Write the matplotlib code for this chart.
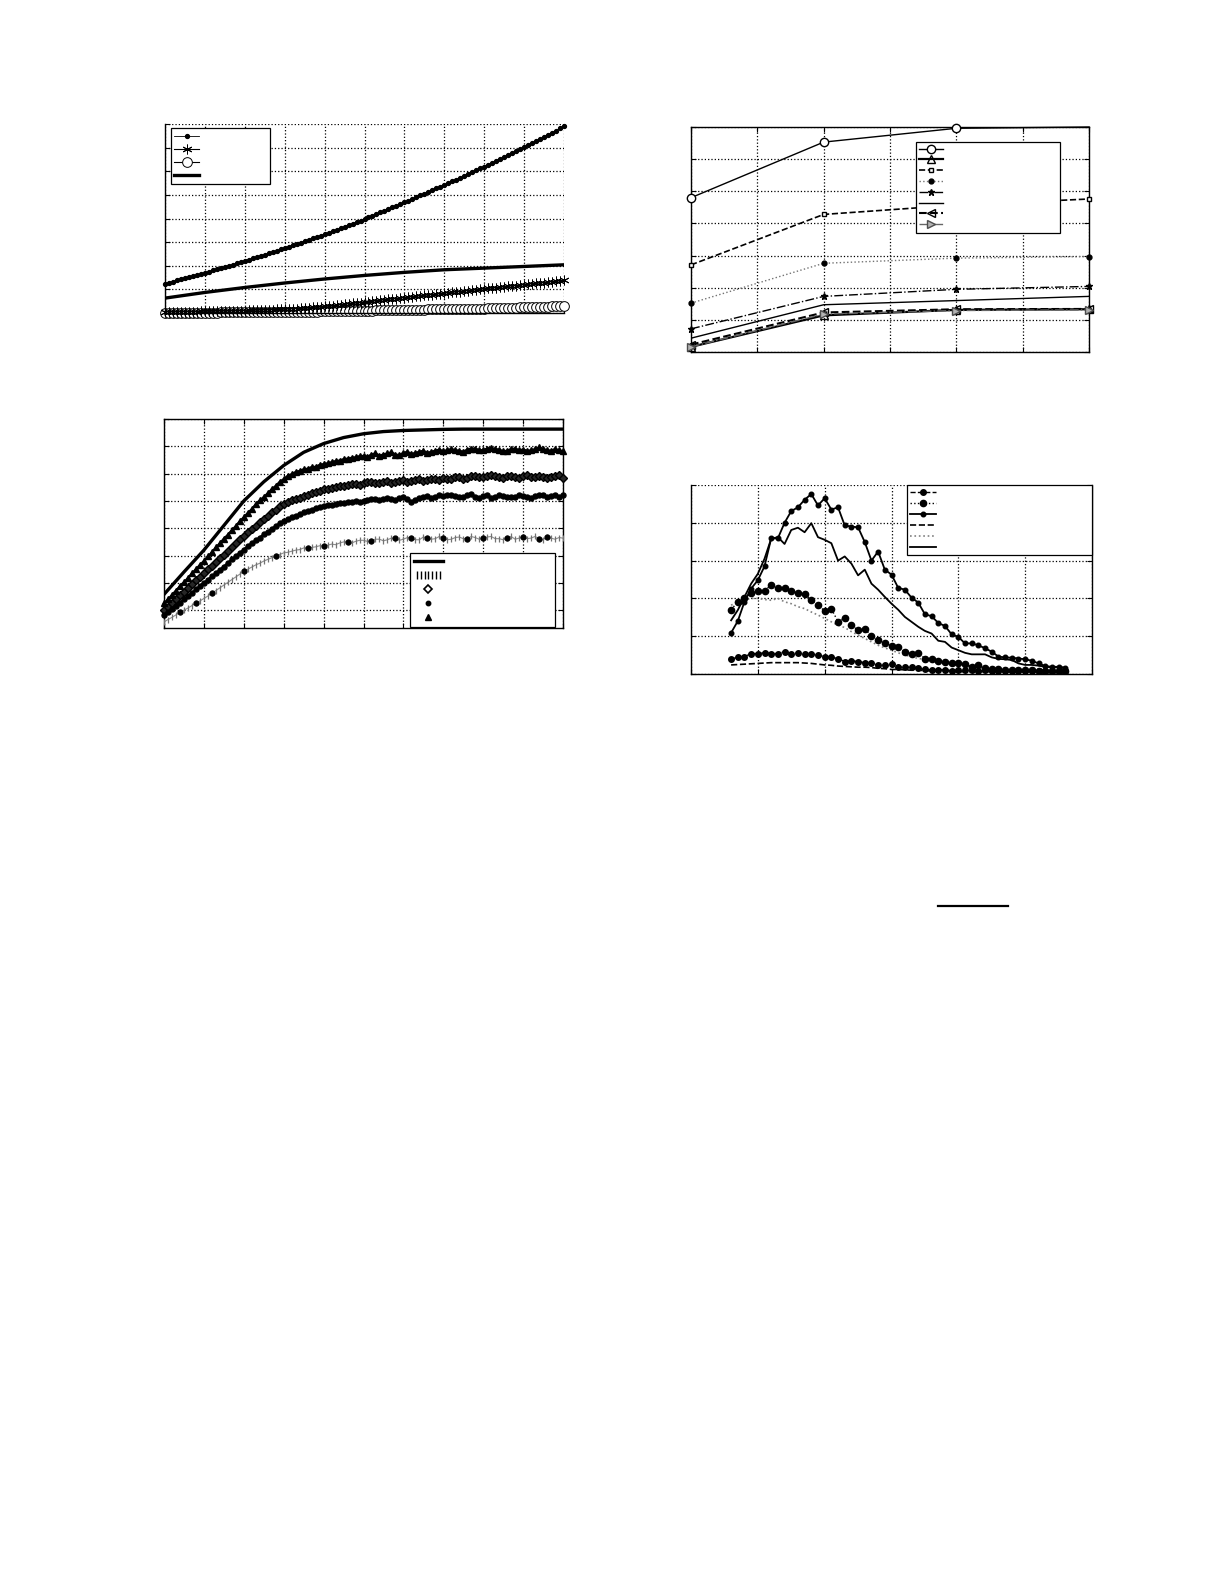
import numpy as np
import matplotlib
matplotlib.use("Agg")
import matplotlib.pyplot as plt
from matplotlib.lines import Line2D
from matplotlib.legend_handler import HandlerLine2D

# ---------------- Panel A data ----------------
a_x = list(range(0, 101))
a_dots = [1.24,1.29,1.33,1.38,1.42,1.47,1.52,1.56,1.61,1.65,
          1.70,1.75,1.80,1.85,1.90,1.95,2.00,2.05,2.10,2.15,
          2.20,2.25,2.31,2.36,2.42,2.47,2.52,2.58,2.63,2.69,
          2.74,2.80,2.86,2.92,2.98,3.04,3.10,3.16,3.21,3.27,
          3.33,3.39,3.46,3.52,3.59,3.65,3.72,3.78,3.85,3.91,
          3.98,4.05,4.12,4.19,4.26,4.33,4.40,4.47,4.54,4.61,
          4.68,4.75,4.83,4.90,4.98,5.05,5.12,5.20,5.27,5.35,
          5.42,5.50,5.58,5.65,5.73,5.81,5.89,5.97,6.04,6.12,
          6.20,6.28,6.36,6.45,6.53,6.61,6.69,6.77,6.86,6.94,
          7.02,7.11,7.20,7.28,7.37,7.46,7.55,7.64,7.72,7.81,7.90]
a_stars = [0.05,0.05,0.05,0.05,0.06,0.06,0.06,0.06,0.06,0.07,
           0.07,0.07,0.07,0.08,0.08,0.08,0.08,0.09,0.09,0.09,
           0.10,0.11,0.11,0.12,0.12,0.13,0.13,0.14,0.15,0.15,
           0.16,0.17,0.18,0.19,0.20,0.22,0.23,0.24,0.25,0.27,
           0.28,0.30,0.31,0.33,0.35,0.37,0.39,0.41,0.42,0.44,
           0.46,0.48,0.50,0.52,0.54,0.56,0.58,0.60,0.61,0.63,
           0.65,0.67,0.69,0.71,0.73,0.75,0.76,0.78,0.80,0.82,
           0.84,0.86,0.88,0.89,0.91,0.93,0.95,0.97,0.98,1.00,
           1.02,1.04,1.06,1.07,1.09,1.11,1.13,1.15,1.16,1.18,
           1.20,1.22,1.24,1.25,1.27,1.29,1.31,1.33,1.34,1.36,1.38]
a_circles = [0.02,0.02,0.02,0.02,0.02,0.02,0.02,0.02,0.02,0.02,
             0.02,0.02,0.02,0.02,0.03,0.03,0.03,0.03,0.03,0.03,
             0.03,0.03,0.03,0.03,0.03,0.04,0.04,0.04,0.04,0.04,
             0.04,0.04,0.05,0.05,0.05,0.05,0.06,0.06,0.06,0.07,
             0.07,0.07,0.07,0.08,0.08,0.08,0.09,0.09,0.09,0.10,
             0.10,0.10,0.10,0.11,0.11,0.11,0.12,0.12,0.12,0.12,
             0.13,0.13,0.13,0.14,0.14,0.14,0.15,0.15,0.15,0.16,
             0.16,0.16,0.17,0.17,0.17,0.18,0.18,0.18,0.19,0.19,
             0.19,0.20,0.20,0.21,0.21,0.22,0.22,0.23,0.23,0.24,
             0.24,0.25,0.25,0.26,0.26,0.27,0.27,0.28,0.28,0.29,0.30]
a_line_x = [0, 10, 20, 30, 40, 50, 60, 70, 80, 90, 100]
a_line_y = [0.63, 0.87, 1.08, 1.27, 1.44, 1.59, 1.72, 1.83, 1.90, 1.97, 2.04]

# ---------------- Panel B data ----------------
b_top_x = list(range(0, 101, 5))
b_top_y = [1.58, 2.4, 3.2, 4.1, 5.0, 5.7, 6.3, 6.78, 7.1, 7.32, 7.46, 7.54,
           7.58, 7.6, 7.62, 7.63, 7.63, 7.63, 7.63, 7.63, 7.63]
b_x = list(range(0, 101))
b_tri = [1.25,1.40,1.56,1.72,1.88,2.02,2.18,2.35,2.50,2.66,
         2.80,2.97,3.12,3.30,3.45,3.62,3.76,3.93,4.08,4.26,
         4.40,4.56,4.70,4.88,5.02,5.14,5.28,5.43,5.55,5.70,
         5.80,5.92,5.98,6.06,6.10,6.16,6.18,6.24,6.25,6.32,
         6.35,6.38,6.42,6.46,6.48,6.53,6.55,6.58,6.60,6.64,
         6.65,6.62,6.70,6.74,6.66,6.70,6.74,6.78,6.70,6.68,
         6.76,6.80,6.72,6.76,6.80,6.84,6.76,6.80,6.84,6.88,
         6.82,6.86,6.90,6.86,6.84,6.80,6.88,6.92,6.92,6.86,
         6.86,6.92,6.94,6.90,6.88,6.82,6.84,6.90,6.92,6.86,
         6.88,6.84,6.85,6.90,6.96,6.90,6.86,6.84,6.90,6.86,6.82]
b_dia = [1.00,1.13,1.27,1.41,1.55,1.68,1.82,1.96,2.10,2.22,
         2.36,2.50,2.63,2.78,2.92,3.04,3.18,3.32,3.45,3.60,
         3.72,3.86,3.98,4.10,4.22,4.35,4.45,4.58,4.68,4.80,
         4.89,4.96,5.02,5.08,5.12,5.18,5.22,5.28,5.32,5.36,
         5.44,5.42,5.48,5.52,5.55,5.54,5.58,5.62,5.62,5.60,
         5.65,5.68,5.70,5.64,5.66,5.70,5.72,5.66,5.68,5.74,
         5.75,5.70,5.72,5.78,5.80,5.74,5.76,5.80,5.82,5.78,
         5.85,5.82,5.80,5.86,5.88,5.82,5.84,5.90,5.92,5.86,
         5.88,5.92,5.94,5.90,5.86,5.84,5.92,5.90,5.88,5.84,
         5.90,5.94,5.86,5.88,5.92,5.86,5.84,5.88,5.90,5.94,5.85]
b_dot = [0.81,0.93,1.05,1.17,1.28,1.40,1.52,1.64,1.76,1.88,
         1.99,2.12,2.24,2.36,2.48,2.60,2.73,2.86,2.98,3.10,
         3.22,3.34,3.45,3.56,3.66,3.78,3.88,3.98,4.08,4.18,
         4.27,4.34,4.40,4.46,4.52,4.58,4.62,4.68,4.74,4.78,
         4.83,4.84,4.86,4.90,4.92,4.94,4.95,4.98,5.00,4.96,
         5.01,5.04,5.06,5.08,5.02,5.06,5.10,5.08,5.05,5.10,
         5.14,5.06,4.98,5.04,5.12,5.16,5.18,5.12,5.14,5.20,
         5.17,5.20,5.22,5.18,5.14,5.16,5.20,5.24,5.16,5.12,
         5.18,5.20,5.12,5.16,5.20,5.18,5.14,5.16,5.16,5.22,
         5.18,5.14,5.12,5.18,5.20,5.22,5.16,5.18,5.22,5.16,5.20]
b_gray = [0.57,0.66,0.74,0.83,0.92,1.00,1.08,1.17,1.26,1.34,
          1.43,1.52,1.62,1.72,1.82,1.92,2.02,2.12,2.22,2.32,
          2.42,2.50,2.58,2.66,2.72,2.80,2.86,2.92,2.98,3.04,
          3.10,3.12,3.16,3.20,3.22,3.28,3.27,3.30,3.32,3.36,
          3.35,3.38,3.42,3.40,3.46,3.50,3.50,3.46,3.52,3.56,
          3.56,3.52,3.54,3.60,3.60,3.54,3.58,3.64,3.62,3.56,
          3.60,3.66,3.64,3.58,3.58,3.68,3.66,3.60,3.62,3.70,
          3.65,3.58,3.60,3.66,3.68,3.62,3.62,3.70,3.66,3.60,
          3.64,3.68,3.70,3.62,3.62,3.58,3.66,3.70,3.60,3.64,
          3.68,3.62,3.64,3.70,3.62,3.58,3.68,3.64,3.60,3.66,3.64]
b_sdot_x = [4, 8, 12, 20, 28, 36, 40, 46, 52, 58, 62, 66, 70, 76, 80, 86, 90, 94, 96]
b_sdot_y = [0.92, 1.26, 1.62, 2.42, 2.98, 3.27, 3.35, 3.50, 3.54, 3.64, 3.64, 3.66,
            3.65, 3.62, 3.64, 3.66, 3.68, 3.62, 3.68]

# ---------------- Panel C data ----------------
c_x = [1, 2, 3, 4]
c_circ = [4.80, 6.53, 6.96, 7.00]
c_tri = [0.16, 1.14, 1.31, 1.33]
c_sq = [2.71, 4.28, 4.57, 4.76]
c_dotted = [1.52, 2.76, 2.92, 2.97]
c_dashdot = [0.72, 1.73, 1.95, 2.04]
c_solid = [0.43, 1.47, 1.60, 1.73]
c_left = [0.23, 1.23, 1.33, 1.34]
c_right = [0.16, 1.18, 1.29, 1.31]

# ---------------- Panel D data ----------------
d_x = list(range(6, 57))
d_solid_dot = [1.09,1.40,1.91,2.26,2.48,2.85,3.59,3.59,4.00,4.31,4.41,4.61,4.76,4.46,4.65,
               4.35,4.41,3.93,3.90,3.88,3.49,3.00,3.24,2.76,2.63,2.28,2.23,2.02,1.89,1.58,
               1.53,1.35,1.27,1.05,0.98,0.81,0.81,0.76,0.68,0.59,0.46,0.44,0.43,0.41,0.39,
               0.35,0.28,0.21,0.19,0.19,0.17]
d_solid = [1.42,1.69,2.04,2.39,2.65,3.05,3.58,3.62,3.44,3.81,3.87,3.75,3.99,3.62,3.55,
           3.46,3.00,3.11,2.92,2.61,2.76,2.39,2.23,2.04,1.86,1.70,1.51,1.38,1.25,1.14,
           1.07,0.88,0.85,0.70,0.63,0.56,0.52,0.52,0.52,0.44,0.40,0.39,0.37,0.28,0.24,
           0.24,0.22,0.19,0.18,0.18,0.15]
d_dotted_dot = [1.70,1.91,2.02,2.13,2.20,2.20,2.36,2.28,2.28,2.20,2.14,2.11,1.97,1.82,1.67,
                1.73,1.38,1.49,1.29,1.16,1.20,1.00,0.90,0.81,0.75,0.72,0.59,0.54,0.56,0.41,
                0.39,0.35,0.33,0.30,0.28,0.26,0.19,0.24,0.15,0.13,0.12,0.11,0.11,0.10,0.10,
                0.10,0.09,0.09,0.09,0.08,0.08]
d_dotted = [1.82,1.91,1.95,2.00,2.00,1.97,1.95,2.00,1.91,1.86,1.78,1.73,1.64,1.56,1.47,
            1.38,1.29,1.23,1.12,1.03,0.94,0.85,0.76,0.69,0.63,0.56,0.50,0.46,0.41,0.39,
            0.35,0.33,0.30,0.27,0.24,0.21,0.19,0.18,0.15,0.12,0.11,0.10,0.10,0.09,0.09,
            0.08,0.08,0.07,0.07,0.06,0.06]
d_dashed_dot = [0.40,0.44,0.46,0.54,0.54,0.56,0.54,0.54,0.59,0.53,0.56,0.54,0.53,0.50,0.46,
                0.44,0.41,0.33,0.35,0.33,0.30,0.28,0.24,0.24,0.26,0.19,0.18,0.18,0.15,0.12,
                0.11,0.11,0.11,0.09,0.11,0.10,0.10,0.09,0.10,0.09,0.08,0.09,0.08,0.08,0.09,
                0.08,0.08,0.07,0.08,0.07,0.07]
d_dashed = [0.24,0.25,0.26,0.27,0.28,0.29,0.30,0.30,0.30,0.30,0.30,0.29,0.28,0.26,0.24,
            0.23,0.21,0.20,0.19,0.18,0.18,0.17,0.15,0.14,0.12,0.12,0.11,0.10,0.10,0.09,
            0.08,0.08,0.07,0.07,0.06,0.06,0.06,0.06,0.06,0.06,0.06,0.06,0.06,0.06,0.06,
            0.06,0.06,0.06,0.06,0.06,0.06]

W, H = 1225, 1585
fig = plt.figure(figsize=(W / 100, H / 100), dpi=100)
fig.patch.set_facecolor("white")


def box(px_left, px_top, px_right, px_bottom):
    return [px_left / W, 1 - px_bottom / H, (px_right - px_left) / W,
            (px_bottom - px_top) / H]


def style(ax, sides=("left", "bottom", "right", "top")):
    for s in ("left", "bottom", "right", "top"):
        ax.spines[s].set_visible(s in sides)
        ax.spines[s].set_linewidth(1.0)
        ax.spines[s].set_color("black")
    ax.grid(True, linestyle=":", color="black", linewidth=0.9)
    ax.set_axisbelow(True)
    ax.tick_params(direction="in", length=3.5, width=0.8,
                   left="left" in sides, bottom="bottom" in sides,
                   right="right" in sides, top="top" in sides,
                   labelleft=False, labelbottom=False)


def legend(ax, handles, bbox, fs, lsp, hl, hmap=None):
    lg = ax.legend(handles, [" "] * len(handles), loc="upper left",
                   bbox_to_anchor=bbox, mode="expand", borderaxespad=0,
                   fontsize=fs, labelspacing=lsp, handlelength=hl,
                   borderpad=0.35, fancybox=False, framealpha=1,
                   edgecolor="black", handletextpad=0.5, handler_map=hmap)
    lg.get_frame().set_linewidth(0.9)
    return lg


# ---------------- Panel A ----------------
axA = fig.add_axes(box(165, 124, 564, 313))
style(axA, sides=("left", "bottom"))
hA1, = axA.plot(a_x, a_dots, "-", color="black", lw=0.6, marker="o", ms=2.8,
                mfc="black", mec="black", clip_on=False, zorder=4)
hA2, = axA.plot(a_x, a_stars, "-", color="black", lw=0.8, marker=(6, 2, 0), ms=7,
                mew=0.7, clip_on=False, zorder=3)
hA3, = axA.plot(a_x, a_circles, "-", color="black", lw=0.8, marker="o", ms=7,
                mfc="white", mec="black", mew=0.7, clip_on=False, zorder=2)
hA4, = axA.plot(a_line_x, a_line_y, "-", color="black", lw=2.4, zorder=3)
axA.set_xlim(0, 100)
axA.set_ylim(0, 8)
axA.set_xticks(range(0, 101, 10))
axA.set_yticks(range(0, 9))
legend(axA, [hA1, hA2, hA3, hA4], (0.014, 0.0, 0.249, 0.977), 7.0, 0.3, 2.6)

# ---------------- Panel B ----------------
axB = fig.add_axes(box(164, 419, 563, 628))
style(axB)
hB1, = axB.plot(b_top_x, b_top_y, "-", color="black", lw=2.4, zorder=5)
axB.plot(b_x, b_gray, "-", color="0.55", lw=0.8, marker="|", ms=4.5, mew=0.9,
         mec="0.45", zorder=3)
axB.plot(b_sdot_x, b_sdot_y, "o", color="black", ms=3.5, zorder=4)
axB.plot(b_x, b_dia, "-", color="black", lw=1.6, marker="D", ms=3.6,
         mfc="0.15", mec="black", mew=1.0, zorder=4, clip_on=False)
axB.plot(b_x, b_dot, "-", color="black", lw=1.6, marker="o", ms=3.6,
         mfc="black", zorder=4, clip_on=False)
axB.plot(b_x, b_tri, "-", color="black", lw=1.6, marker="^", ms=4.2,
         mfc="black", zorder=4, clip_on=False)
axB.set_xlim(0, 100)
axB.set_ylim(0.35, 8)
axB.set_xticks(range(0, 101, 10))
axB.set_yticks(range(1, 9))
hB2l = Line2D([], [], ls="none", marker="|", ms=6, color="black", mew=1.0)
hB3l = Line2D([], [], ls="none", marker="D", ms=4.5, mfc="white", mec="black", mew=1.2)
hB4l = Line2D([], [], ls="none", marker="o", ms=3.2, color="black")
hB5l = Line2D([], [], ls="none", marker="^", ms=4.5, color="black")
legend(axB, [hB1, hB2l, hB3l, hB4l, hB5l], (0.617, 0.0, 0.363, 0.357),
       7.5, 0.38, 2.8, hmap={hB2l: HandlerLine2D(numpoints=7)})

# ---------------- Panel C ----------------
axC = fig.add_axes(box(691, 127, 1089, 352))
style(axC)
hC1, = axC.plot(c_x, c_circ, "-", color="black", lw=1.0, marker="o", ms=6,
                mfc="white", mew=1.0, clip_on=False, zorder=4, markevery=[0, 1, 2])
hC2, = axC.plot(c_x, c_tri, "-", color="black", lw=1.6, marker="^", ms=6,
                mfc="none", mew=1.0, clip_on=False, zorder=4)
hC3, = axC.plot(c_x, c_sq, "--", color="black", lw=1.2, marker="s", ms=3.5,
                mfc="white", mew=1.0, clip_on=False, zorder=4)
hC4, = axC.plot(c_x, c_dotted, ":", color="0.45", lw=1.0, marker="o", ms=3.5,
                mfc="black", mec="black", clip_on=False, zorder=4)
hC5, = axC.plot(c_x, c_dashdot, "-.", color="black", lw=1.0, marker="*", ms=5,
                mfc="black", clip_on=False, zorder=4)
hC6, = axC.plot(c_x, c_solid, "-", color="black", lw=1.0, zorder=4)
hC7, = axC.plot(c_x, c_left, "--", color="black", lw=1.5, marker="<", ms=6,
                mfc="none", mew=1.0, clip_on=False, zorder=4)
hC8, = axC.plot(c_x, c_right, "-.", color="0.4", lw=1.0, marker=">", ms=6,
                mfc="0.7", mec="0.3", mew=1.0, clip_on=False, zorder=4)
axC.set_xlim(1, 4)
axC.set_ylim(0, 7)
axC.set_xticks(np.arange(1, 4.01, 0.5))
axC.set_yticks(range(0, 8))
legend(axC, [hC1, hC2, hC3, hC4, hC5, hC6, hC7, hC8],
       (0.565, 0.0, 0.362, 0.935), 6.5, 0.2, 2.6)

# ---------------- Panel D ----------------
axD = fig.add_axes(box(691, 485, 1092, 674))
style(axD, sides=("left", "bottom", "right"))
hD1, = axD.plot(d_x, d_dashed_dot, "--", color="black", lw=1.0, marker="o", ms=4.0,
                mfc="black", zorder=4)
hD2, = axD.plot(d_x, d_dotted_dot, ":", color="black", lw=1.0, marker="o", ms=4.5,
                mfc="black", zorder=4)
hD3, = axD.plot(d_x, d_solid_dot, "-", color="black", lw=1.3, marker="o", ms=3.3,
                mfc="black", zorder=4)
hD4, = axD.plot(d_x, d_dashed, "--", color="black", lw=1.2, zorder=3)
hD5, = axD.plot(d_x, d_dotted, ":", color="0.5", lw=1.2, zorder=3)
hD6, = axD.plot(d_x, d_solid, "-", color="black", lw=1.3, zorder=3)
axD.set_xlim(0, 60)
axD.set_ylim(0, 5)
axD.set_xticks(range(0, 61, 10))
axD.set_yticks(range(0, 6))
legend(axD, [hD1, hD2, hD3, hD4, hD5, hD6], (0.538, 0.0, 0.462, 1.0), 6.5, 0.22, 2.9)

# stray rule on the page
fig.add_artist(Line2D([938 / W, 1008 / W], [1 - 906 / H, 1 - 906 / H],
                      transform=fig.transFigure, color="black", lw=1.6))

fig.savefig("out.png", dpi=100, facecolor="white")
